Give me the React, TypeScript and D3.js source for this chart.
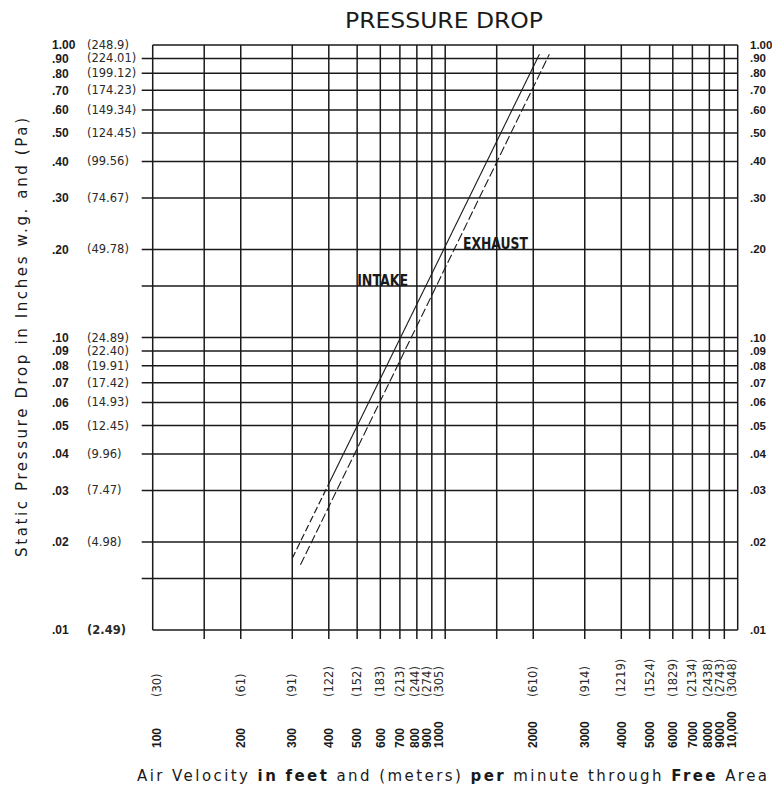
import { useEffect, useRef } from 'react';
import * as d3 from 'd3';

const WIDTH = 772;
const HEIGHT = 787;

// static pressure ticks (inches w.g.) and the matching pascal values
const pressureTicks = [1, 0.9, 0.8, 0.7, 0.6, 0.5, 0.4, 0.3, 0.2, 0.1, 0.09, 0.08, 0.07, 0.06, 0.05, 0.04, 0.03, 0.02, 0.01];
const pressureLabels = ["1.00", ".90", ".80", ".70", ".60", ".50", ".40", ".30", ".20", ".10", ".09", ".08", ".07", ".06", ".05", ".04", ".03", ".02", ".01"];
const pascalLabels = ["(248.9)", "(224.01)", "(199.12)", "(174.23)", "(149.34)", "(124.45)", "(99.56)", "(74.67)", "(49.78)", "(24.89)", "(22.40)", "(19.91)", "(17.42)", "(14.93)", "(12.45)", "(9.96)", "(7.47)", "(4.98)", "(2.49)"];
const pressureExtraLines = [0.15, 0.015];

// air velocity ticks (fpm) and the matching meters per minute
const velocityTicks = [100, 200, 300, 400, 500, 600, 700, 800, 900, 1000, 2000, 3000, 4000, 5000, 6000, 7000, 8000, 9000, 10000];
const velocityLabels = ["100", "200", "300", "400", "500", "600", "700", "800", "900", "1000", "2000", "3000", "4000", "5000", "6000", "7000", "8000", "9000", "10,000"];
const meterLabels = ["(30)", "(61)", "(91)", "(122)", "(152)", "(183)", "(213)", "(244)", "(274)", "(305)", "(610)", "(914)", "(1219)", "(1524)", "(1829)", "(2134)", "(2438)", "(2743)", "(3048)"];
const velocityExtraLines = [150, 1500];

// curves
const intakeVelocity = [300, 400, 2100];
const intakePressure = [0.0176, 0.0316, 0.93];
const exhaustVelocity = [320, 2270];
const exhaustPressure = [0.0167, 0.93];

const PLOT = { left: 152.7, right: 737.7, top: 45, bottom: 630 };
const INK = '#1a1a1a';

export default function App() {
    const svgRef = useRef<SVGSVGElement>(null);

    useEffect(() => {
        if (!svgRef.current) return;
        const svg = d3.select(svgRef.current);
        svg.selectAll('*').remove();

        const x = d3.scaleLog().domain([100, 10000]).range([PLOT.left, PLOT.right]);
        const y = d3.scaleLog().domain([0.01, 1]).range([PLOT.bottom, PLOT.top]);

        const grid = svg.append('g').attr('stroke', INK).attr('stroke-width', 1.5);

        // horizontal lines, interior ones get a tick to the left
        const hLines = [...pressureTicks, ...pressureExtraLines];
        hLines.forEach(p => {
            const edge = p === 1 || p === 0.01;
            grid.append('line')
                .attr('x1', edge ? PLOT.left : PLOT.left - 11)
                .attr('x2', PLOT.right)
                .attr('y1', y(p)).attr('y2', y(p));
        });

        // vertical lines, interior ones get a tick below
        const vLines = [...velocityTicks, ...velocityExtraLines];
        vLines.forEach(v => {
            const edge = v === 100 || v === 10000;
            grid.append('line')
                .attr('x1', x(v)).attr('x2', x(v))
                .attr('y1', PLOT.top)
                .attr('y2', edge ? PLOT.bottom : PLOT.bottom + 9);
        });

        // left + right labels
        pressureTicks.forEach((p, i) => {
            svg.append('text')
                .attr('x', 52).attr('y', y(p)).attr('dy', '0.35em')
                .attr('font-family', 'Liberation Sans, Arial, sans-serif')
                .attr('font-weight', 'bold').attr('font-size', 12)
                .attr('fill', INK)
                .text(pressureLabels[i]);
            svg.append('text')
                .attr('x', 87).attr('y', y(p)).attr('dy', '0.35em')
                .attr('font-family', 'DejaVu Sans, sans-serif')
                .attr('font-size', 11.5)
                .attr('font-weight', p === 0.01 ? 'bold' : 'normal')
                .attr('fill', '#2a2a2a')
                .text(pascalLabels[i]);
            svg.append('text')
                .attr('x', 750).attr('y', y(p)).attr('dy', '0.35em')
                .attr('font-family', 'Liberation Sans, Arial, sans-serif')
                .attr('font-weight', 'bold').attr('font-size', 11.5)
                .attr('fill', INK)
                .text(pressureLabels[i]);
        });

        // bottom labels: crowded ones get pushed left, like the original
        const centers = velocityTicks.map(v => x(v));
        for (let i = centers.length - 1; i >= 0; i--) {
            const decadeEnd = i > 0 && Number.isInteger(Math.log10(velocityTicks[i]));
            if (decadeEnd) centers[i] -= 6;
            if (i === 0) centers[i] += 4;
            if (i < centers.length - 1) centers[i] = Math.min(centers[i], centers[i + 1] - 12);
        }
        centers.forEach((c, i) => {
            svg.append('text')
                .attr('transform', `translate(${c},697) rotate(-90)`)
                .attr('dy', '0.35em')
                .attr('font-family', 'DejaVu Sans, sans-serif')
                .attr('font-size', 11.5)
                .attr('fill', '#2a2a2a')
                .text(meterLabels[i]);
            svg.append('text')
                .attr('transform', `translate(${c},748) rotate(-90)`)
                .attr('dy', '0.35em')
                .attr('font-family', 'Liberation Sans, Arial, sans-serif')
                .attr('font-weight', 'bold').attr('font-size', 12)
                .attr('fill', INK)
                .text(velocityLabels[i]);
        });

        // curves
        const intake = intakeVelocity.map((v, i) => [x(v), y(intakePressure[i])] as [number, number]);
        const exhaust = exhaustVelocity.map((v, i) => [x(v), y(exhaustPressure[i])] as [number, number]);
        const path = d3.line();

        svg.append('path')
            .attr('d', path(intake.slice(0, 2)))
            .attr('fill', 'none').attr('stroke', INK).attr('stroke-width', 1.2)
            .attr('stroke-dasharray', '7,3');
        svg.append('path')
            .attr('d', path(intake.slice(1)))
            .attr('fill', 'none').attr('stroke', INK).attr('stroke-width', 1.1);
        svg.append('path')
            .attr('d', path(exhaust))
            .attr('fill', 'none').attr('stroke', INK).attr('stroke-width', 1.1)
            .attr('stroke-dasharray', '9,3');

        // curve names
        svg.append('text')
            .attr('x', x(500)).attr('y', y(0.15))
            .attr('font-family', 'Liberation Sans Narrow, DejaVu Sans Condensed, sans-serif')
            .attr('font-weight', 'bold').attr('font-size', 15)
            .attr('textLength', 51).attr('lengthAdjust', 'spacingAndGlyphs')
            .attr('fill', INK)
            .text('INTAKE');
        svg.append('text')
            .attr('x', x(1150)).attr('y', y(0.2))
            .attr('font-family', 'Liberation Sans Narrow, DejaVu Sans Condensed, sans-serif')
            .attr('font-weight', 'bold').attr('font-size', 15)
            .attr('textLength', 65).attr('lengthAdjust', 'spacingAndGlyphs')
            .attr('fill', INK)
            .text('EXHAUST');

        // titles
        svg.append('text')
            .attr('x', 345).attr('y', 28)
            .attr('font-family', 'DejaVu Sans Condensed, DejaVu Sans, sans-serif')
            .attr('font-size', 22)
            .attr('textLength', 198).attr('lengthAdjust', 'spacingAndGlyphs')
            .attr('fill', INK)
            .text('PRESSURE DROP');

        svg.append('text')
            .attr('transform', `translate(27,${(118 + 557) / 2}) rotate(-90)`)
            .attr('text-anchor', 'middle')
            .attr('font-family', 'DejaVu Sans, sans-serif')
            .attr('font-size', 15)
            .attr('textLength', 439).attr('lengthAdjust', 'spacing')
            .attr('fill', INK)
            .text('Static Pressure Drop in Inches w.g. and (Pa)');

        const xt = svg.append('text')
            .attr('x', 137).attr('y', 781)
            .attr('font-family', 'DejaVu Sans, sans-serif')
            .attr('font-size', 15)
            .attr('textLength', 630).attr('lengthAdjust', 'spacing')
            .attr('fill', INK);
        const parts: [string, boolean][] = [
            ['Air Velocity ', false], ['in', true], [' ', false], ['feet', true],
            [' and (meters) ', false], ['per', true], [' minute through ', false],
            ['Free', true], [' Area', false]
        ];
        parts.forEach(([t, b]) => {
            xt.append('tspan').attr('font-weight', b ? 'bold' : 'normal').text(t);
        });
    }, []);

    return (
        <svg
            ref={svgRef}
            width={WIDTH}
            height={HEIGHT}
            style={{ position: 'absolute', left: 0, top: 0, background: '#fff' }}
        />
    );
}
